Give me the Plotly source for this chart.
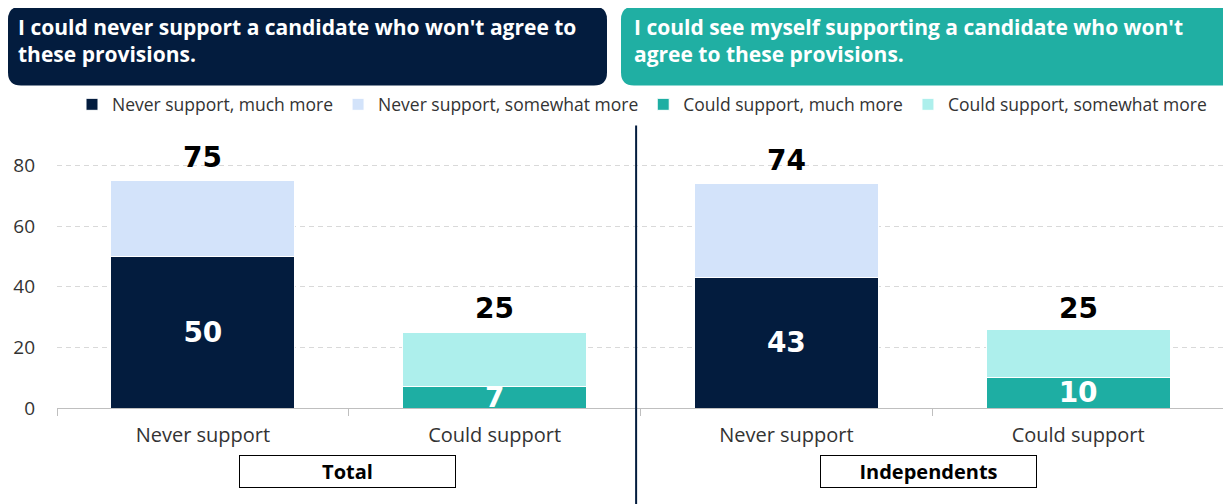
import plotly.graph_objects as go

# ---- data ----
bar_ids = ["Total|Never", "Total|Could", "Ind|Never", "Ind|Could"]
cat_labels = ["Never support", "Could support", "Never support", "Could support"]
group_labels = ["Total", "Independents"]
never_much = [50, None, 43, None]
never_some = [25, None, 31, None]
could_much = [None, 7, None, 10]
could_some = [None, 18, None, 16]
totals = [75, 25, 74, 25]
series_names = ["Never support, much more", "Never support, somewhat more",
                "Could support, much more", "Could support, somewhat more"]
header_left = "I could never support a candidate who won't agree to<br>these provisions."
header_right = "I could see myself supporting a candidate who won't<br>agree to these provisions."

# ---- style ----
C_NAVY = "#031C3E"
C_LBLUE = "#D3E3FA"
C_TEAL = "#1EAEA3"
C_LCYAN = "#ADEFEC"
FONT = "Open Sans"
NUMFONT = "DejaVu Sans"
OFF = 8                      # page body margin
W, H = 1231 - OFF, 504 - OFF
# plot area in reference-screen pixels
RL, RR, RT, RB = 57, 1224, 134.6, 408
L, R, T, B = RL - OFF, RR - OFF, RT - OFF, RB - OFF
YMAX = 90

def px(x):
    return (x - OFF - L) / (R - L)

def py(y):
    return (B - (y - OFF)) / (B - T)

fig = go.Figure()
series = [never_much, never_some, could_much, could_some]
colors = [C_NAVY, C_LBLUE, C_TEAL, C_LCYAN]
for i, (name, vals, col) in enumerate(zip(series_names, series, colors)):
    inner = i in (0, 2)
    fig.add_trace(go.Bar(
        x=bar_ids, y=vals, name=name,
        marker=dict(color=col, line=dict(color="white", width=1)),
        width=0.63,
        text=[("" if v is None else str(v)) for v in vals] if inner else None,
        textposition="inside" if inner else "none",
        insidetextanchor="middle",
        constraintext="none",
        textangle=0,
        textfont=dict(family=NUMFONT, size=28, color="white", weight="bold"),
        cliponaxis=False,
        hoverinfo="skip",
    ))

# total labels above bars
for xid, tot in zip(bar_ids, totals):
    fig.add_annotation(x=xid, y=tot, text=str(tot), showarrow=False,
                       yanchor="bottom", yshift=5,
                       font=dict(family=NUMFONT, size=28, color="black", weight="bold"))

# header boxes (rounded)
def rounded(x0, y0, x1, y1, r):
    pts = [
        f"M {px(x0 + r)},{py(y0)}",
        f"L {px(x1 - r)},{py(y0)}",
        f"Q {px(x1)},{py(y0)} {px(x1)},{py(y0 + r)}",
        f"L {px(x1)},{py(y1 - r)}",
        f"Q {px(x1)},{py(y1)} {px(x1 - r)},{py(y1)}",
        f"L {px(x0 + r)},{py(y1)}",
        f"Q {px(x0)},{py(y1)} {px(x0)},{py(y1 - r)}",
        f"L {px(x0)},{py(y0 + r)}",
        f"Q {px(x0)},{py(y0)} {px(x0 + r)},{py(y0)}",
        "Z",
    ]
    return " ".join(pts)

fig.add_shape(type="path", xref="paper", yref="paper",
              path=rounded(8, 6, 607, 85, 13), fillcolor=C_NAVY, line=dict(width=0))
fig.add_shape(type="path", xref="paper", yref="paper",
              path=rounded(621, 6, 1250, 85, 13), fillcolor="#20AFA3", line=dict(width=0))
fig.add_annotation(xref="paper", yref="paper", x=px(16), y=py(40), text=header_left,
                   showarrow=False, xanchor="left", yanchor="middle", align="left",
                   font=dict(family=FONT, size=21, color="white", weight=700))
fig.add_annotation(xref="paper", yref="paper", x=px(632), y=py(40), text=header_right,
                   showarrow=False, xanchor="left", yanchor="middle", align="left",
                   font=dict(family=FONT, size=21, color="white", weight=700))

# divider line between groups
fig.add_shape(type="line", xref="x", yref="paper", x0=1.485, x1=1.485,
              y0=py(125), y1=py(520), line=dict(color=C_NAVY, width=2))

# group label boxes
for gx, g in zip([347, 928], group_labels):
    fig.add_annotation(xref="paper", yref="paper", x=px(gx), y=py(472),
                       text=f"<b>{g}</b>", showarrow=False, xanchor="center", yanchor="middle",
                       width=213, height=29, bordercolor="black", borderwidth=1,
                       bgcolor="white",
                       font=dict(family=FONT, size=20, color="black"))

fig.update_layout(
    width=W, height=H,
    barmode="stack",
    plot_bgcolor="white", paper_bgcolor="white",
    margin=dict(l=L, r=W - R, t=T, b=H - B, autoexpand=False),
    font=dict(family=FONT, color="#333333"),
    showlegend=True,
    legend=dict(orientation="h", x=px(72), y=py(104), xanchor="left", yanchor="middle",
                font=dict(family=FONT, size=17.5, color="#333333"),
                traceorder="normal", itemclick=False, itemdoubleclick=False),
    bargap=0.37,
)
fig.update_xaxes(
    type="category", tickmode="array", tickvals=bar_ids, ticktext=cat_labels,
    tickson="boundaries", ticks="outside", ticklen=7, tickcolor="#bfbfbf",
    showline=True, linecolor="#bfbfbf", linewidth=1, showgrid=False,
    tickfont=dict(family=FONT, size=20, color="#333333"),
    ticklabelstandoff=9, automargin=False,
    range=[-0.5, 3.5],
)
fig.update_yaxes(
    range=[0, YMAX], tickvals=[0, 20, 40, 60, 80],
    showgrid=True, gridcolor="#d9d9d9", griddash="5px,4px", gridwidth=1,
    zeroline=False, showline=False,
    tickfont=dict(family=FONT, size=19, color="#333333"),
    ticklabelstandoff=21, automargin=False,
)

fig.write_html("out.html")
